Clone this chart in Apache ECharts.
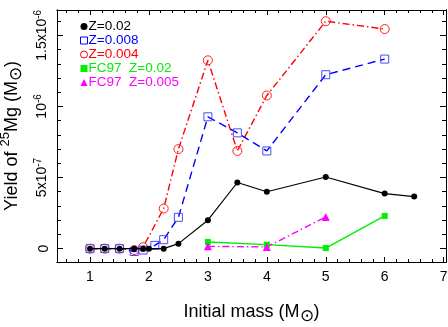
<!DOCTYPE html>
<html><head><meta charset="utf-8">
<script src="https://cdn.jsdelivr.net/npm/echarts@6/dist/echarts.min.js"></script>
<style>html,body{margin:0;padding:0;background:#fff}#c{width:448px;height:327px}</style>
</head><body><div id="c"></div>
<script>
// Initial mass (Msun) and 25Mg yields (Msun)
const massZ002 = [1, 1.25, 1.5, 1.75, 1.9, 2, 2.25, 2.5, 3, 3.5, 4, 5, 6, 6.5];
const yieldZ002 = [0, 0, 0, 0, 0, 0, 0, 0.35e-7, 2.0e-7, 4.65e-7, 4.0e-7, 5.04e-7, 3.87e-7, 3.66e-7];
const massZ0008 = [1, 1.25, 1.5, 1.75, 1.9, 2.1, 2.25, 2.5, 3, 3.5, 4, 5, 6];
const yieldZ0008 = [0, 0, 0, -0.2e-7, -0.1e-7, 0.23e-7, 0.63e-7, 2.2e-7, 9.27e-7, 8.14e-7, 6.87e-7, 12.23e-7, 13.33e-7];
const massZ0004 = [1, 1.25, 1.5, 1.75, 1.9, 2.25, 2.5, 3, 3.5, 4, 5, 6];
const yieldZ0004 = [0, 0, 0, -0.1e-7, 0.1e-7, 2.82e-7, 7.0e-7, 13.24e-7, 6.87e-7, 10.77e-7, 15.99e-7, 15.44e-7];
const massFC002 = [3, 4, 5, 6];
const yieldFC002 = [0.47e-7, 0.28e-7, 0.04e-7, 2.3e-7];
const massFC0005 = [3, 4, 5];
const yieldFC0005 = [0.16e-7, 0.12e-7, 2.23e-7];

const xMajor = [1, 2, 3, 4, 5, 6, 7];
const yMajor = [0, 5e-7, 10e-7, 15e-7];
const yLabels = ['0', '5x10{sup|-7}', '10{sup|-6}', '1.5x10{sup|-6}'];

const X_MIN = 0.44, X_MAX = 7.04, Y_MIN = -0.94e-7, Y_MAX = 16.78e-7;
const xMinor = [];
for (let i = 3; i <= 35; i++) { if (i % 5 !== 0) xMinor.push(i / 5); }
const yMinor = [];
for (let i = 0; i <= 16; i++) { if (i % 5 !== 0) yMinor.push(i * 1e-7); }

const FONT = 'Liberation Sans';
const pair = (xs, ys) => xs.map((x, i) => [x, ys[i]]);

function xAx(pos, ticks, len, labels) {
  return {
    type: 'value', position: pos, min: X_MIN, max: X_MAX,
    axisLine: { show: true, onZero: false, lineStyle: { color: '#000', width: 1 } },
    axisTick: { show: true, inside: true, length: len, customValues: ticks, lineStyle: { color: '#000', width: 1 } },
    axisLabel: labels ? { show: true, customValues: xMajor, margin: 8, color: '#000', fontFamily: FONT, fontSize: 14,
      formatter: v => String(Math.round(v)) } : { show: false },
    splitLine: { show: false }
  };
}
function yAx(pos, ticks, len, labels) {
  return {
    type: 'value', position: pos, min: Y_MIN, max: Y_MAX,
    axisLine: { show: true, onZero: false, lineStyle: { color: '#000', width: 1 } },
    axisTick: { show: true, inside: true, length: len, customValues: ticks, lineStyle: { color: '#000', width: 1 } },
    axisLabel: labels ? {
      show: true, customValues: yMajor, rotate: 90, margin: 6, color: '#000', fontFamily: FONT, fontSize: 14,
      formatter: v => { const k = yMajor.findIndex(m => Math.abs(m - v) < 1e-9); return k >= 0 ? yLabels[k] : ''; },
      rich: { sup: { fontSize: 10, verticalAlign: 'top', fontFamily: FONT, color: '#000', lineHeight: 18 } }
    } : { show: false },
    splitLine: { show: false }
  };
}

const xAxes = [xAx('bottom', xMajor, 5, true), xAx('bottom', xMinor, 3, false), xAx('top', xMajor, 5, false), xAx('top', xMinor, 3, false)];
xAxes[0].name = 'Initial mass (M{sub|⊙})';
xAxes[0].nameLocation = 'middle';
xAxes[0].nameGap = 37;
xAxes[0].nameTextStyle = { fontFamily: FONT, fontSize: 18, color: '#000', rich: { sub: { fontSize: 17, verticalAlign: 'bottom', lineHeight: 26, fontFamily: FONT, color: '#000' } } };
const yAxes = [yAx('left', yMajor, 6, true), yAx('left', yMinor, 4, false), yAx('right', yMajor, 6, false), yAx('right', yMinor, 4, false)];
yAxes[0].name = 'Yield of {sup|25}Mg (M{sub|⊙})';
yAxes[0].nameLocation = 'middle';
yAxes[0].nameGap = 26;
yAxes[0].nameTextStyle = { fontFamily: FONT, fontSize: 18, color: '#000', rich: {
  sup: { fontSize: 13, verticalAlign: 'top', lineHeight: 26, fontFamily: FONT, color: '#000' },
  sub: { fontSize: 17, verticalAlign: 'bottom', lineHeight: 26, fontFamily: FONT, color: '#000' } } };

const names = ['Z=0.02', 'Z=0.008', 'Z=0.004', 'FC97  Z=0.02', 'FC97  Z=0.005'];
const colors = ['#000000', '#0000ff', '#ff0000', '#00f000', '#ff00ff'];

const option = {
  animation: false,
  backgroundColor: '#fff',
  grid: { left: 57, right: 2, top: 10, bottom: 65, containLabel: false, outerBoundsMode: 'none' },
  xAxis: xAxes,
  yAxis: yAxes,
  legend: {
    orient: 'vertical', left: 80, top: 19.5, padding: 0, itemGap: 0, itemWidth: 7, itemHeight: 7,
    textStyle: { fontFamily: FONT, fontSize: 13.5, lineHeight: 11.5, padding: [0, 0, 0, -4] },
    data: [
      { name: names[0], icon: 'circle', itemStyle: { color: '#000' }, textStyle: { color: colors[0] } },
      { name: names[1], icon: 'rect', itemStyle: { color: '#fff', borderColor: '#0000ff', borderWidth: 1 }, textStyle: { color: colors[1] } },
      { name: names[2], icon: 'circle', itemStyle: { color: '#fff', borderColor: '#ff0000', borderWidth: 1 }, textStyle: { color: colors[2] } },
      { name: names[3], icon: 'rect', itemStyle: { color: colors[3] }, textStyle: { color: colors[3] } },
      { name: names[4], icon: 'triangle', itemStyle: { color: colors[4] }, textStyle: { color: colors[4] } }
    ]
  },
  series: [
    { name: names[0], type: 'line', data: pair(massZ002, yieldZ002), symbol: 'circle', symbolSize: 6,
      lineStyle: { color: '#000', width: 1.2 }, itemStyle: { color: '#000' }, z: 5 },
    { name: names[1], type: 'line', data: pair(massZ0008, yieldZ0008), symbol: 'rect', symbolSize: 8,
      lineStyle: { color: '#0000ff', width: 1.4, type: [8, 5] }, itemStyle: { color: 'rgba(0,0,0,0)', borderColor: '#4a4aff', borderWidth: 1 }, z: 4 },
    { name: names[2], type: 'line', data: pair(massZ0004, yieldZ0004), symbol: 'circle', symbolSize: 9,
      lineStyle: { color: '#ff0000', width: 1.4, type: [7, 3, 1.5, 3] }, itemStyle: { color: 'rgba(0,0,0,0)', borderColor: '#ff2020', borderWidth: 1 }, z: 3 },
    { name: names[3], type: 'line', data: pair(massFC002, yieldFC002), symbol: 'rect', symbolSize: 6,
      lineStyle: { color: colors[3], width: 1.4 }, itemStyle: { color: colors[3] }, z: 3 },
    { name: names[4], type: 'line', data: pair(massFC0005, yieldFC0005), symbol: 'triangle', symbolSize: 8,
      lineStyle: { color: colors[4], width: 1.4, type: [7, 3, 1.5, 3] }, itemStyle: { color: colors[4] }, z: 3 }
  ]
};
const chart = echarts.init(document.getElementById('c'), null, { renderer: 'canvas' });
chart.setOption(option);
</script></body></html>
